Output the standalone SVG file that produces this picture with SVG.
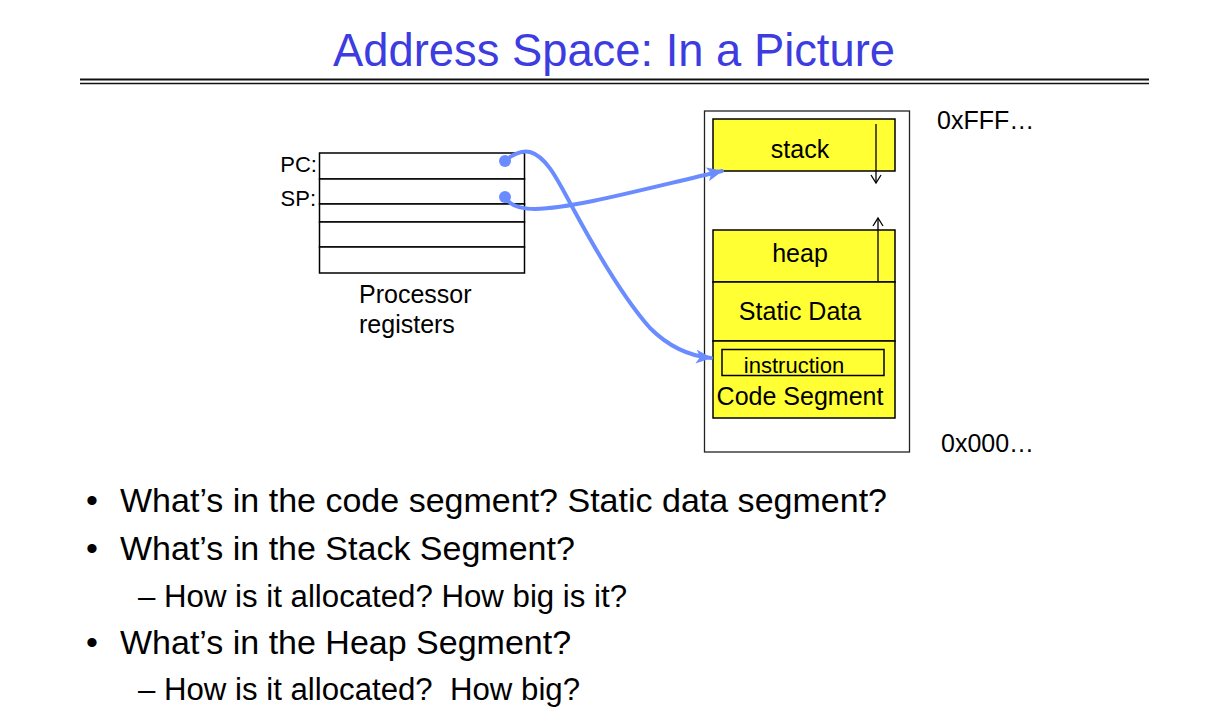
<svg xmlns="http://www.w3.org/2000/svg" width="1214" height="720" viewBox="0 0 1214 720">
  <style>
    text { font-family: "Liberation Sans", Arial, sans-serif; fill: #000; }
    .title { font-size: 45.5px; fill: #3c3ce0; }
    .reg { fill: #fff; stroke: #000; stroke-width: 1.5; }
    .seg { fill: #ffff33; stroke: #000; stroke-width: 1.5; }
    .lbl { font-size: 25px; text-anchor: middle; }
    .addr { font-size: 25px; }
    .blt { font-size: 34px; }
    .sub { font-size: 31px; }
    .ptr { fill: none; stroke: #6a8cff; stroke-width: 4; stroke-linecap: round; }
    .thin { fill: none; stroke: #000; stroke-width: 1.3; }
  </style>
  <defs>
    <marker id="blueHead" markerUnits="userSpaceOnUse" markerWidth="18" markerHeight="14" refX="15" refY="7" orient="auto">
      <path d="M0,0 L16,7 L0,14 L4,7 z" fill="#6a8cff"/>
    </marker>
  </defs>

  <rect width="1214" height="720" fill="#fff"/>

  <!-- title and rule -->
  <g id="title">
    <text class="title" x="333" y="66" textLength="562" lengthAdjust="spacingAndGlyphs">Address Space: In a Picture</text>
    <line x1="80" y1="79.5" x2="1149" y2="79.5" stroke="#111" stroke-width="2"/>
    <line x1="80" y1="83.5" x2="1149" y2="83.5" stroke="#111" stroke-width="1.4"/>
  </g>

  <!-- processor registers -->
  <g id="registers">
    <rect class="reg" x="319.5" y="153" width="205" height="26"/>
    <rect class="reg" x="319.5" y="179" width="205" height="25"/>
    <rect class="reg" x="319.5" y="204" width="205" height="18"/>
    <rect class="reg" x="319.5" y="222" width="205" height="25"/>
    <rect class="reg" x="319.5" y="247" width="205" height="26"/>
    <text x="317" y="172" font-size="22" text-anchor="end">PC:</text>
    <text x="316" y="206" font-size="22" text-anchor="end">SP:</text>
    <text x="359" y="303" font-size="25">Processor</text>
    <text x="359" y="333" font-size="25">registers</text>
  </g>

  <!-- memory layout -->
  <g id="memory">
    <rect x="704.5" y="111" width="205" height="341" fill="#fff" stroke="#222" stroke-width="1.3"/>
    <text class="addr" x="937" y="129">0xFFF…</text>
    <text class="addr" x="941" y="452">0x000…</text>
  </g>

  <g id="stack">
    <rect class="seg" x="713" y="119" width="182" height="52"/>
    <text class="lbl" x="800" y="158">stack</text>
    <line class="thin" x1="876" y1="124" x2="876" y2="183"/>
    <polyline class="thin" points="871,175 876,183 881,175"/>
  </g>

  <g id="heap">
    <rect class="seg" x="713" y="230" width="182" height="52"/>
    <text class="lbl" x="800" y="262">heap</text>
    <line class="thin" x1="878" y1="281" x2="878" y2="218"/>
    <polyline class="thin" points="873,226 878,218 883,226"/>
  </g>

  <g id="static-data">
    <rect class="seg" x="713" y="282" width="182" height="59"/>
    <text class="lbl" x="800" y="320">Static Data</text>
  </g>

  <g id="code-segment">
    <rect class="seg" x="713" y="341" width="182" height="77"/>
    <rect x="722" y="349.5" width="162" height="26" fill="none" stroke="#000" stroke-width="1.5"/>
    <text x="794" y="373" font-size="22" text-anchor="middle">instruction</text>
    <text class="lbl" x="800" y="405">Code Segment</text>
  </g>

  <!-- register pointers -->
  <g id="connectors">
    <circle cx="505" cy="161" r="6" fill="#6a8cff"/>
    <circle cx="505" cy="197" r="6" fill="#6a8cff"/>
    <path class="ptr" marker-end="url(#blueHead)" d="M505,161 C512,155 520,150 530,152 C548,157 560,185 575,212 C600,258 625,300 650,328 C670,348 690,356 711,358"/>
    <path class="ptr" marker-end="url(#blueHead)" d="M505,197 C510,206 520,209 535,209 C575,208 640,190 722,171"/>
  </g>

  <!-- questions -->
  <g id="questions">
    <text class="blt" x="86" y="512">•</text>
    <text class="blt" x="120" y="512" textLength="767" lengthAdjust="spacingAndGlyphs">What’s in the code segment? Static data segment?</text>
    <text class="blt" x="86" y="560">•</text>
    <text class="blt" x="120" y="560">What’s in the Stack Segment?</text>
    <text class="sub" x="138" y="607" textLength="489" lengthAdjust="spacingAndGlyphs">– How is it allocated? How big is it?</text>
    <text class="blt" x="86" y="654">•</text>
    <text class="blt" x="120" y="654">What’s in the Heap Segment?</text>
    <text class="sub" x="138" y="700" xml:space="preserve" textLength="442" lengthAdjust="spacingAndGlyphs">– How is it allocated?  How big?</text>
  </g>
</svg>
